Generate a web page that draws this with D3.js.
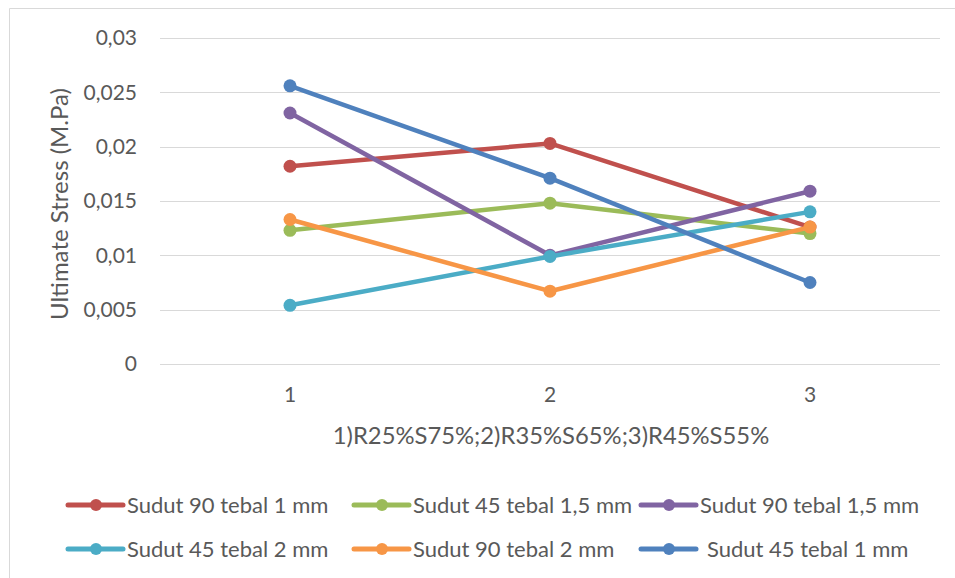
<!DOCTYPE html>
<html><head><meta charset="utf-8">
<script src="https://cdn.jsdelivr.net/npm/d3@7"></script>
<style>body{margin:0;background:#fff}svg{display:block}text{font-family:Lato,"Open Sans",sans-serif;fill:#595959}</style>
</head><body><svg id="c" width="955" height="578"></svg>
<script>
const categories = ["1","2","3"];
const yTicks = [0,0.005,0.01,0.015,0.02,0.025,0.03];
const yTickLabels = ["0","0,005","0,01","0,015","0,02","0,025","0,03"];
const seriesNames = ["Sudut 90 tebal 1 mm","Sudut 45 tebal 1,5 mm","Sudut 90 tebal 1,5 mm","Sudut 45 tebal 2 mm","Sudut 90 tebal 2 mm","Sudut 45 tebal 1 mm"];
const seriesColors = ["#C0504D","#9BBB59","#8064A2","#4BACC6","#F79646","#4F81BD"];
const s1 = [0.0182,0.0203,0.0126];
const s2 = [0.0123,0.0148,0.0120];
const s3 = [0.0231,0.0100,0.0159];
const s4 = [0.0054,0.0099,0.0140];
const s5 = [0.0133,0.0067,0.0126];
const s6 = [0.0256,0.0171,0.0075];
const seriesValues = [s1,s2,s3,s4,s5,s6];
const xTitle = "1)R25%S75%;2)R35%S65%;3)R45%S55%";
const yTitle = "Ultimate Stress (M.Pa)";

const svg = d3.select("#c");
svg.append("rect").attr("width",955).attr("height",578).attr("fill","#fff");
svg.append("path").attr("d","M9.5,578V8.5H955").attr("fill","none").attr("stroke","#D9D9D9").attr("stroke-width",1);

const x = d3.scaleBand().domain(categories).range([160,940]).padding(0);
const xc = d => x(d) + x.bandwidth()/2;
const y = d3.scaleLinear().domain([0,0.03]).range([364,38]);

// gridlines
svg.append("g").selectAll("line").data(yTicks).join("line")
  .attr("x1",160).attr("x2",940)
  .attr("y1",d=>Math.round(y(d))+0.5).attr("y2",d=>Math.round(y(d))+0.5)
  .attr("stroke","#D9D9D9").attr("stroke-width",1);

// y tick labels
svg.append("g").selectAll("text").data(yTicks).join("text")
  .attr("x",137).attr("y",d=>y(d)).attr("dy","0.35em")
  .attr("text-anchor","end").attr("font-size",21)
  .text((d,i)=>yTickLabels[i]);

// x tick labels
svg.append("g").selectAll("text").data(categories).join("text")
  .attr("x",d=>xc(d)).attr("y",395).attr("dy","0.35em")
  .attr("text-anchor","middle").attr("font-size",21).text(d=>d);

// titles
svg.append("text").attr("x",551).attr("y",436).attr("dy","0.35em")
  .attr("text-anchor","middle").attr("font-size",23.8).text(xTitle);
svg.append("text").attr("transform","translate(60,204) rotate(-90)").attr("dy","0.35em")
  .attr("text-anchor","middle").attr("font-size",24).text(yTitle);

// series
const line = d3.line().x((d,i)=>xc(categories[i])).y(d=>y(d));
seriesValues.forEach((vals,k)=>{
  const g = svg.append("g");
  g.append("path").attr("d",line(vals)).attr("fill","none")
    .attr("stroke",seriesColors[k]).attr("stroke-width",4.5).attr("stroke-linejoin","round").attr("stroke-linecap","round");
  g.selectAll("circle").data(vals).join("circle")
    .attr("cx",(d,i)=>xc(categories[i])).attr("cy",d=>y(d)).attr("r",6.5)
    .attr("fill",seriesColors[k]);
});

// legend
const legCols = [96,382,669], legRows = [505,549];
seriesNames.forEach((name,k)=>{
  const cx = legCols[k%3], cy = legRows[Math.floor(k/3)];
  const g = svg.append("g");
  g.append("line").attr("x1",cx-28).attr("x2",cx+27).attr("y1",cy).attr("y2",cy)
    .attr("stroke",seriesColors[k]).attr("stroke-width",5).attr("stroke-linecap","round");
  g.append("circle").attr("cx",cx).attr("cy",cy).attr("r",6).attr("fill",seriesColors[k]);
  g.append("text").attr("x",cx+31+(k===5?7:0)).attr("y",cy).attr("dy","0.35em")
    .attr("font-size",22).text(name);
});
</script></body></html>
